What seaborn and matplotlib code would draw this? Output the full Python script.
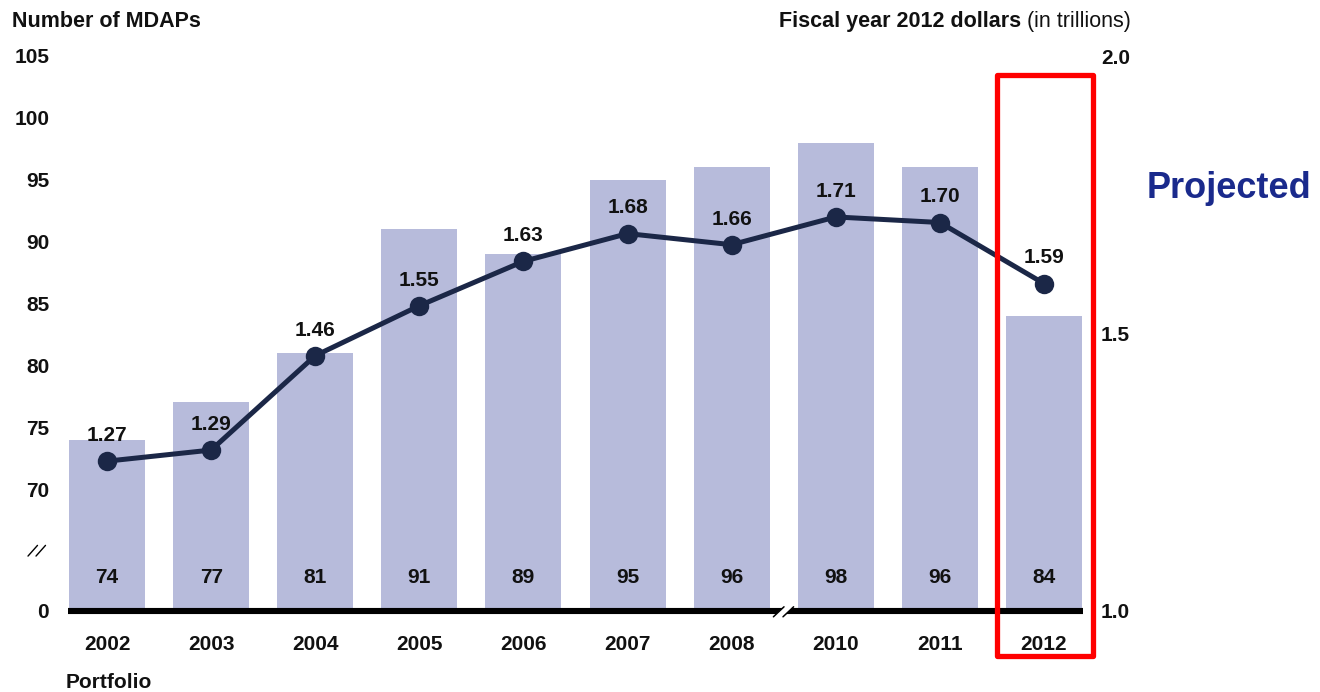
import numpy as np
import pandas as pd
import matplotlib
matplotlib.use("Agg")
import matplotlib.pyplot as plt
import seaborn as sns
from matplotlib.patches import Polygon, Rectangle
from matplotlib.lines import Line2D
from matplotlib.transforms import Affine2D, ScaledTranslation, blended_transform_factory

# Portfolio years (2009 is not part of the series)
years = ["2002", "2003", "2004", "2005", "2006", "2007", "2008", "2010", "2011", "2012"]
# Number of major defense acquisition programs per portfolio
mdap_counts = [74, 77, 81, 91, 89, 95, 96, 98, 96, 84]
# Total acquisition cost, fiscal year 2012 dollars in trillions
cost_trillions = [1.27, 1.29, 1.46, 1.55, 1.63, 1.68, 1.66, 1.71, 1.70, 1.59]

left_ticks = [70, 75, 80, 85, 90, 95, 100, 105]
right_ticks = [1.0, 1.5, 2.0]

BAR_COLOR = "#B7BBDB"
LINE_COLOR = "#1B2747"
PROJ_COLOR = "#1A2A8C"
TEXT_COLOR = "#111111"
FS = 15

sns.set_theme(style="white")
plt.rcParams["font.family"] = ["Liberation Sans", "DejaVu Sans"]

df = pd.DataFrame({"year": years, "mdaps": mdap_counts, "cost": cost_trillions})

W, H = 1320, 692
fig = plt.figure(figsize=(W / 100, H / 100), dpi=100)
ax = fig.add_axes([68 / W, 81 / H, 1015 / W, 555 / H])

# Bars: program counts on the left axis (broken between 0 and 70)
sns.barplot(data=df, x="year", y="mdaps", order=years, color=BAR_COLOR,
            saturation=1, width=0.73, linewidth=0, ax=ax)

y_floor = 60.14  # where the "0" of the broken axis sits
ax.set_xlabel("")
ax.set_ylabel("")

# Line: dollar totals on the right axis
ax2 = ax.twinx()
sns.pointplot(data=df, x="year", y="cost", order=years, color=LINE_COLOR,
              markers="o", errorbar=None, linewidth=3.6, markersize=14,
              markeredgewidth=0, ax=ax2)

# Limits are fixed after both seaborn calls, since each resets the shared x range
x_lim = (-0.375, len(years) - 0.625)
ax.set_xlim(x_lim)
ax2.set_xlim(x_lim)
ax.set_ylim(y_floor, 105)
ax2.set_ylim(1.0, 2.0)

ax.set_yticks([y_floor] + left_ticks)
ax.set_yticklabels(["0"] + [str(t) for t in left_ticks],
                   fontsize=FS, fontweight="bold", color=TEXT_COLOR)
ax.set_xticks(range(len(years)))
ax.set_xticklabels(years, fontsize=FS, fontweight="bold", color=TEXT_COLOR)
ax.tick_params(axis="y", length=0, pad=13.5)
ax.tick_params(axis="x", length=0, pad=17.5)
for side in ["top", "right", "left"]:
    ax.spines[side].set_visible(False)
ax.spines["bottom"].set_linewidth(4.4)
ax.spines["bottom"].set_color("black")
ax.spines["bottom"].set_capstyle("butt")

for i, v in enumerate(mdap_counts):
    ax.annotate(str(v), xy=(i, y_floor), xytext=(0, 20), textcoords="offset points",
                ha="center", va="baseline", fontsize=FS, fontweight="bold",
                color=TEXT_COLOR)

ax2.set_ylabel("")
ax2.set_xlabel("")
ax2.set_yticks(right_ticks)
ax2.set_yticklabels([f"{t:.1f}" for t in right_ticks], fontsize=FS,
                    fontweight="bold", color=TEXT_COLOR)
ax2.tick_params(axis="y", length=0, pad=13)
for side in ax2.spines:
    ax2.spines[side].set_visible(False)

for i, v in enumerate(cost_trillions):
    ax2.annotate(f"{v:.2f}", xy=(i, v), xytext=(0, 14.5), textcoords="offset points",
                 ha="center", va="baseline", fontsize=FS, fontweight="bold",
                 color=TEXT_COLOR)


def pixel_anchor(x, y, base):
    """Transform taking pixel offsets around point (x, y) of `base`."""
    return Affine2D() + ScaledTranslation(x, y, base)


# Break mark on the x axis between 2008 and 2010
t_x = pixel_anchor(6.5, y_floor, ax.transData)
ax.add_patch(Polygon([(-10.3, -5.8), (-0.7, -5.8), (9.7, 4.2), (0.3, 4.2)],
                     closed=True, facecolor="white", edgecolor="none",
                     transform=t_x, clip_on=False, zorder=4))
for dx in (0.0, 9.6):
    ax.add_line(Line2D([-10.3 + dx, 0.3 + dx], [-5.8, 4.2], color="black",
                       lw=1.1, transform=t_x, clip_on=False, zorder=5))

# Break mark on the left axis between 0 and 70
t_y = pixel_anchor(0, 65, blended_transform_factory(ax.transAxes, ax.transData))
for dx in (0.0, 8.0):
    ax.add_line(Line2D([-40 + dx, -30.5 + dx], [-5.2, 5.5], color="black",
                       lw=1.0, transform=t_y, clip_on=False, zorder=5))

# Axis headers and annotations
fig.text(12 / W, 1 - 27 / H, "Number of MDAPs", ha="left", va="baseline",
         fontsize=15.5, fontweight="bold", color=TEXT_COLOR)
unit_txt = fig.text(1131 / W, 1 - 27 / H, "(in trillions)", ha="right",
                    va="baseline", fontsize=15.5, color=TEXT_COLOR)
ax.annotate("Fiscal year 2012 dollars", xy=(0, 0), xycoords=unit_txt,
            xytext=(-4, 0), textcoords="offset points", ha="right", va="bottom",
            fontsize=15.5, fontweight="bold", color=TEXT_COLOR)
fig.text(66 / W, 1 - 688 / H, "Portfolio", ha="left", va="baseline",
         fontsize=FS, fontweight="bold", color=TEXT_COLOR)
fig.text(1147 / W, 1 - 198 / H, "Projected", ha="left", va="baseline",
         fontsize=26, fontweight="bold", color=PROJ_COLOR)

# Highlight box around the projected year
fig.add_artist(Rectangle((997 / W, 1 - 656 / H), 95.5 / W, 581.5 / H,
                         transform=fig.transFigure, fill=False,
                         edgecolor="#FF0000", lw=3.8, joinstyle="round"))

fig.savefig("out.png", dpi=100)
